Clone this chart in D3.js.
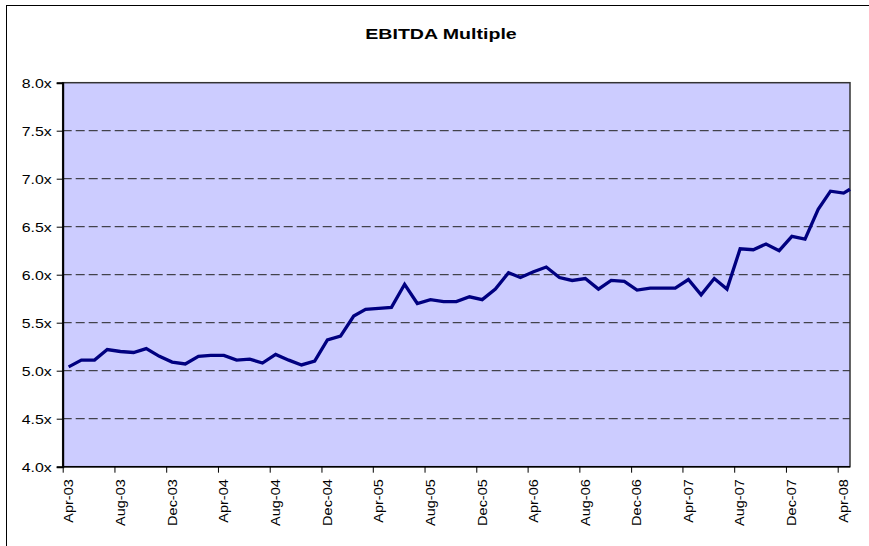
<!DOCTYPE html>
<html>
<head>
<meta charset="utf-8">
<script src="https://cdn.jsdelivr.net/npm/d3@7"></script>
<style>
  html, body { margin: 0; padding: 0; background: #fff; }
  svg { display: block; font-family: "Liberation Sans", Arial, sans-serif; }
</style>
</head>
<body>
<svg id="chart" width="869" height="546"></svg>
<script>
// ---- data ----
const title = "EBITDA Multiple";
const dates = [
  "2003-04-15","2003-05-15","2003-06-15","2003-07-15","2003-08-15","2003-09-15","2003-10-15","2003-11-15","2003-12-15",
  "2004-01-15","2004-02-15","2004-03-15","2004-04-15","2004-05-15","2004-06-15","2004-07-15","2004-08-15","2004-09-15","2004-10-15","2004-11-15","2004-12-15",
  "2005-01-15","2005-02-15","2005-03-15","2005-04-15","2005-05-15","2005-06-15","2005-07-15","2005-08-15","2005-09-15","2005-10-15","2005-11-15","2005-12-15",
  "2006-01-15","2006-02-15","2006-03-15","2006-04-15","2006-05-15","2006-06-15","2006-07-15","2006-08-15","2006-09-15","2006-10-15","2006-11-15","2006-12-15",
  "2007-01-15","2007-02-15","2007-03-15","2007-04-15","2007-05-15","2007-06-15","2007-07-15","2007-08-15","2007-09-15","2007-10-15","2007-11-15","2007-12-15",
  "2008-01-15","2008-02-15","2008-03-15","2008-04-15","2008-04-30"
];
const multiples = [
  5.04,5.11,5.11,5.22,5.20,5.19,5.23,5.15,5.09,
  5.07,5.15,5.16,5.16,5.11,5.12,5.08,5.17,5.11,5.06,5.10,5.32,
  5.36,5.57,5.64,5.65,5.66,5.90,5.70,5.74,5.72,5.72,5.77,5.74,
  5.85,6.02,5.97,6.03,6.08,5.97,5.94,5.96,5.85,5.94,5.93,5.84,
  5.86,5.86,5.86,5.95,5.79,5.96,5.85,6.27,6.26,6.32,6.25,6.40,
  6.37,6.68,6.87,6.85,6.89
];
const xTickDates = ["2003-04-01","2003-08-01","2003-12-01","2004-04-01","2004-08-01","2004-12-01",
  "2005-04-01","2005-08-01","2005-12-01","2006-04-01","2006-08-01","2006-12-01",
  "2007-04-01","2007-08-01","2007-12-01","2008-04-01"];
const xTickLabels = ["Apr-03","Aug-03","Dec-03","Apr-04","Aug-04","Dec-04","Apr-05","Aug-05",
  "Dec-05","Apr-06","Aug-06","Dec-06","Apr-07","Aug-07","Dec-07","Apr-08"];
const yTicks = [4.0,4.5,5.0,5.5,6.0,6.5,7.0,7.5,8.0];
const yTickLabels = ["4.0x","4.5x","5.0x","5.5x","6.0x","6.5x","7.0x","7.5x","8.0x"];

// ---- layout ----
const parse = d3.utcParse("%Y-%m-%d");
const plot = { left: 62.7, right: 850, top: 82.7, bottom: 466.7 };
const svg = d3.select("#chart");

// outer frame (extends past right/bottom edges)
svg.append("rect").attr("x", 6.5).attr("y", 5.5).attr("width", 900).attr("height", 600)
  .attr("fill", "#fff").attr("stroke", "#000").attr("stroke-width", 1);

const x = d3.scaleUtc()
  .domain([parse("2003-04-01"), parse("2008-04-30")])
  .range([plot.left, plot.right]);
const y = d3.scaleLinear().domain([4, 8]).range([plot.bottom, plot.top]);

// plot background
svg.append("rect")
  .attr("x", plot.left).attr("y", plot.top)
  .attr("width", plot.right - plot.left).attr("height", plot.bottom - plot.top)
  .attr("fill", "#CCCCFF");

// gridlines
svg.append("g").selectAll("line")
  .data(yTicks.filter(v => v > 4 && v < 8))
  .join("line")
  .attr("x1", plot.left).attr("x2", plot.right)
  .attr("y1", d => y(d)).attr("y2", d => y(d))
  .attr("stroke", "#222").attr("stroke-width", 1)
  .attr("stroke-dasharray", "9,4");

// plot border
svg.append("rect")
  .attr("x", plot.left).attr("y", plot.top)
  .attr("width", plot.right - plot.left).attr("height", plot.bottom - plot.top)
  .attr("fill", "none").attr("stroke", "#333").attr("stroke-width", 1.5);

// line
const data = dates.map((d, i) => ({ date: parse(d), v: multiples[i] }));
svg.append("path").datum(data)
  .attr("fill", "none").attr("stroke", "#000080").attr("stroke-width", 3.3)
  .attr("stroke-linejoin", "miter").attr("stroke-miterlimit", 3)
  .attr("d", d3.line().x(d => x(d.date)).y(d => y(d.v)));

// y axis
const yAxis = d3.axisLeft(y).tickValues(yTicks).tickSize(6).tickFormat((d, i) => yTickLabels[i]);
const gy = svg.append("g").attr("transform", `translate(${plot.left},0)`).call(yAxis);
gy.select(".domain").attr("stroke", "#000").attr("stroke-width", 2);
gy.selectAll(".tick line").attr("stroke", "#000");
gy.selectAll(".tick text")
  .attr("font-size", 12.5).attr("fill", "#000")
  .attr("font-family", "'Liberation Sans', Arial, sans-serif")
  .attr("x", null).attr("dy", null)
  .attr("dominant-baseline", "central")
  .attr("text-anchor", "end")
  .attr("transform", "translate(-11,0) scale(1.27,1)");

// x axis
const xAxis = d3.axisBottom(x).tickValues(xTickDates.map(parse)).tickSize(6)
  .tickFormat((d, i) => xTickLabels[i]);
const gx = svg.append("g").attr("transform", `translate(0,${plot.bottom})`).call(xAxis);
gx.select(".domain").attr("stroke", "#000").attr("stroke-width", 1.5)
  .attr("d", `M${plot.left},0H${plot.right}`);
gx.selectAll(".tick line").attr("stroke", "#000");
gx.selectAll(".tick text")
  .attr("font-size", 12.5).attr("fill", "#000")
  .attr("font-family", "'Liberation Sans', Arial, sans-serif")
  .attr("x", null).attr("y", null).attr("dy", null)
  .attr("text-anchor", "end")
  .attr("transform", "translate(9.8,12.5) rotate(-90) scale(1.16,1)");

// title
svg.append("text")
  .attr("x", 0).attr("y", 0)
  .attr("transform", "translate(441,38.5) scale(1.35,1)")
  .attr("text-anchor", "middle")
  .attr("font-size", 14.5).attr("font-weight", "bold")
  .attr("font-family", "'Liberation Sans', Arial, sans-serif")
  .text(title);
</script>
</body>
</html>
